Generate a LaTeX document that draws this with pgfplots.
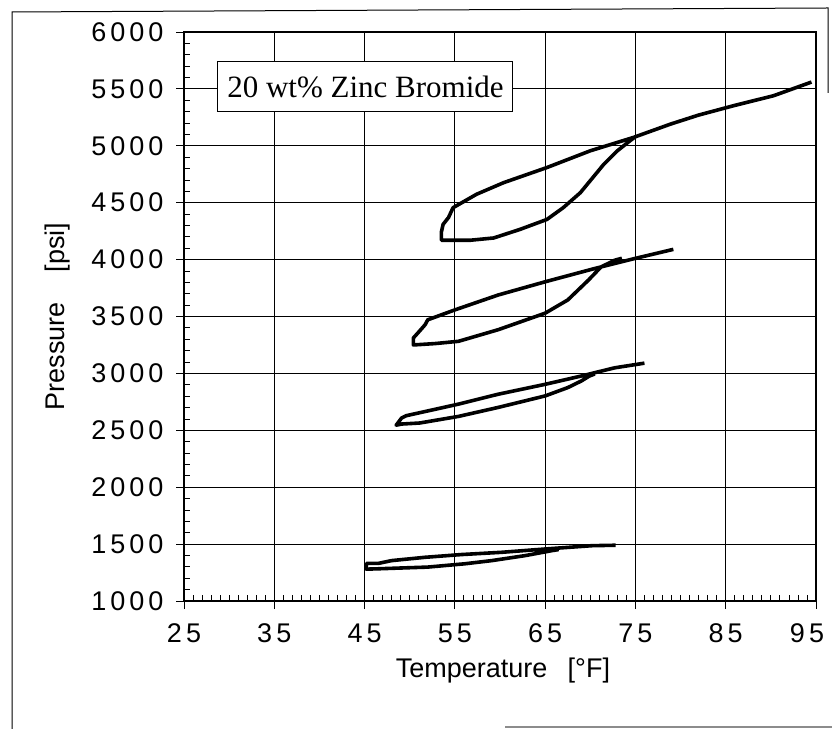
\documentclass[border=0pt]{standalone}
\usepackage{fontspec}
\setmainfont{Liberation Sans}
\newfontfamily\tickfont[LetterSpace=15]{Liberation Sans}
\newfontfamily\boxfont{Liberation Serif}
\usepackage{pgfplots}
\pgfplotsset{compat=1.18}

% common geometry of the plotting area
\pgfplotsset{
  zbframe/.style={
    at={(184bp,128bp)}, anchor=south west,
    scale only axis, width=632bp, height=569bp,
    xmin=25, xmax=95, ymin=1000, ymax=6000,
    xtick={25,35,...,95}, ytick={1000,1500,...,6000},
    xtick pos=bottom, ytick pos=left,
  }
}

\begin{document}
\begin{tikzpicture}
\path[use as bounding box] (0bp,0bp) rectangle (832bp,729bp);
% outer frame
\draw[line width=1bp] (12bp,0bp) -- (12bp,717bp) -- (828bp,721bp) -- (828bp,636bp);
\draw[line width=1.2bp, black!45] (505bp,2bp) -- (832bp,2bp);

\begin{axis}[zbframe,
  grid=major,
  major grid style={black, line width=0.8bp},
  axis line style={black, line width=1.2bp},
  tick align=outside, major tick length=8bp,
  tick style={black, line width=0.9bp},
  scaled ticks=false,
  /pgf/number format/assume math mode=true,
  /pgf/number format/1000 sep={},
  ticklabel style={font=\tickfont\fontsize{27bp}{32bp}\selectfont},
  yticklabel style={xshift=-9bp},
  xticklabel style={yshift=-11bp},
  xticklabels={25,35,45,55,65,75,85,{\hspace*{-18bp}95}},
  xlabel={Temperature\hspace{0.75em}[°F]},
  ylabel={Pressure\hspace{1.1em}[psi]},
  label style={font=\fontsize{27bp}{32bp}\selectfont},
  xlabel style={at={(axis description cs:0.5047,-0.1213)}, anchor=center},
  ylabel style={at={(axis description cs:-0.2009,0.5)}, anchor=center},
]
% ~4200-5600 psi loop
\addplot[black, line width=3.6bp, line join=round] coordinates {
 (94.5,5560) (90.3,5440) (86.0,5355) (82.0,5270) (78.9,5191) (74.8,5074)
 (70.0,4956) (65.2,4809) (60.4,4676) (57.4,4574) (54.8,4456) (54.3,4370)
 (53.7,4310) (53.5,4240) (53.5,4170) (56.7,4170) (59.3,4190) (62.2,4265)
 (65.2,4353) (67.0,4456) (68.9,4588) (71.5,4838) (73.0,4956) (74.4,5044)
 (75.0,5080)
};
% ~3250-4100 psi loop
\addplot[black, line width=3.6bp, line join=round] coordinates {
 (79.2,4090) (74.9,4009) (70.5,3922) (65.0,3805) (59.8,3689) (55.0,3558)
 (52.0,3471) (51.7,3427) (50.9,3355) (50.4,3311) (50.4,3250) (52.8,3262)
 (55.4,3282) (59.8,3384) (65.0,3529) (67.5,3645) (69.8,3820) (71.2,3936)
 (72.7,3994) (73.5,4012)
};
% ~2550-3100 psi loop
\addplot[black, line width=3.6bp, line join=round] coordinates {
 (76.0,3090) (72.7,3049) (69.0,2977) (65.0,2904) (59.8,2817) (55.4,2730)
 (49.6,2628) (49.1,2608) (48.5,2545) (49.1,2555) (51.1,2564) (55.4,2622)
 (59.8,2701) (65.0,2802) (67.5,2875) (69.0,2933) (69.9,2977) (70.5,2995)
};
% ~1280-1500 psi loop
\addplot[black, line width=3.6bp, line join=round] coordinates {
 (72.8,1490) (70.2,1486) (65.0,1457) (60.2,1428) (55.7,1408) (51.7,1384)
 (48.0,1355) (46.5,1330) (45.2,1330) (45.2,1280) (46.5,1283) (52.0,1298)
 (56.1,1327) (59.1,1355) (62.8,1399) (65.7,1442) (66.5,1452)
};
\node[draw=black, line width=1bp, fill=white, inner sep=0pt,
      minimum width=295bp, minimum height=50bp,
      font=\boxfont\fontsize{31bp}{36bp}\selectfont]
  at (axis cs:45.1,5517) {20 wt\% Zinc Bromide};
\end{axis}

% inward minor ticks
\begin{axis}[zbframe,
  axis line style={draw=none},
  minor x tick num=9, minor y tick num=4,
  tick align=inside, major tick length=0pt, minor tick length=6bp,
  minor tick style={black, line width=0.8bp},
  xticklabels={}, yticklabels={},
]
\end{axis}
\end{tikzpicture}
\end{document}
